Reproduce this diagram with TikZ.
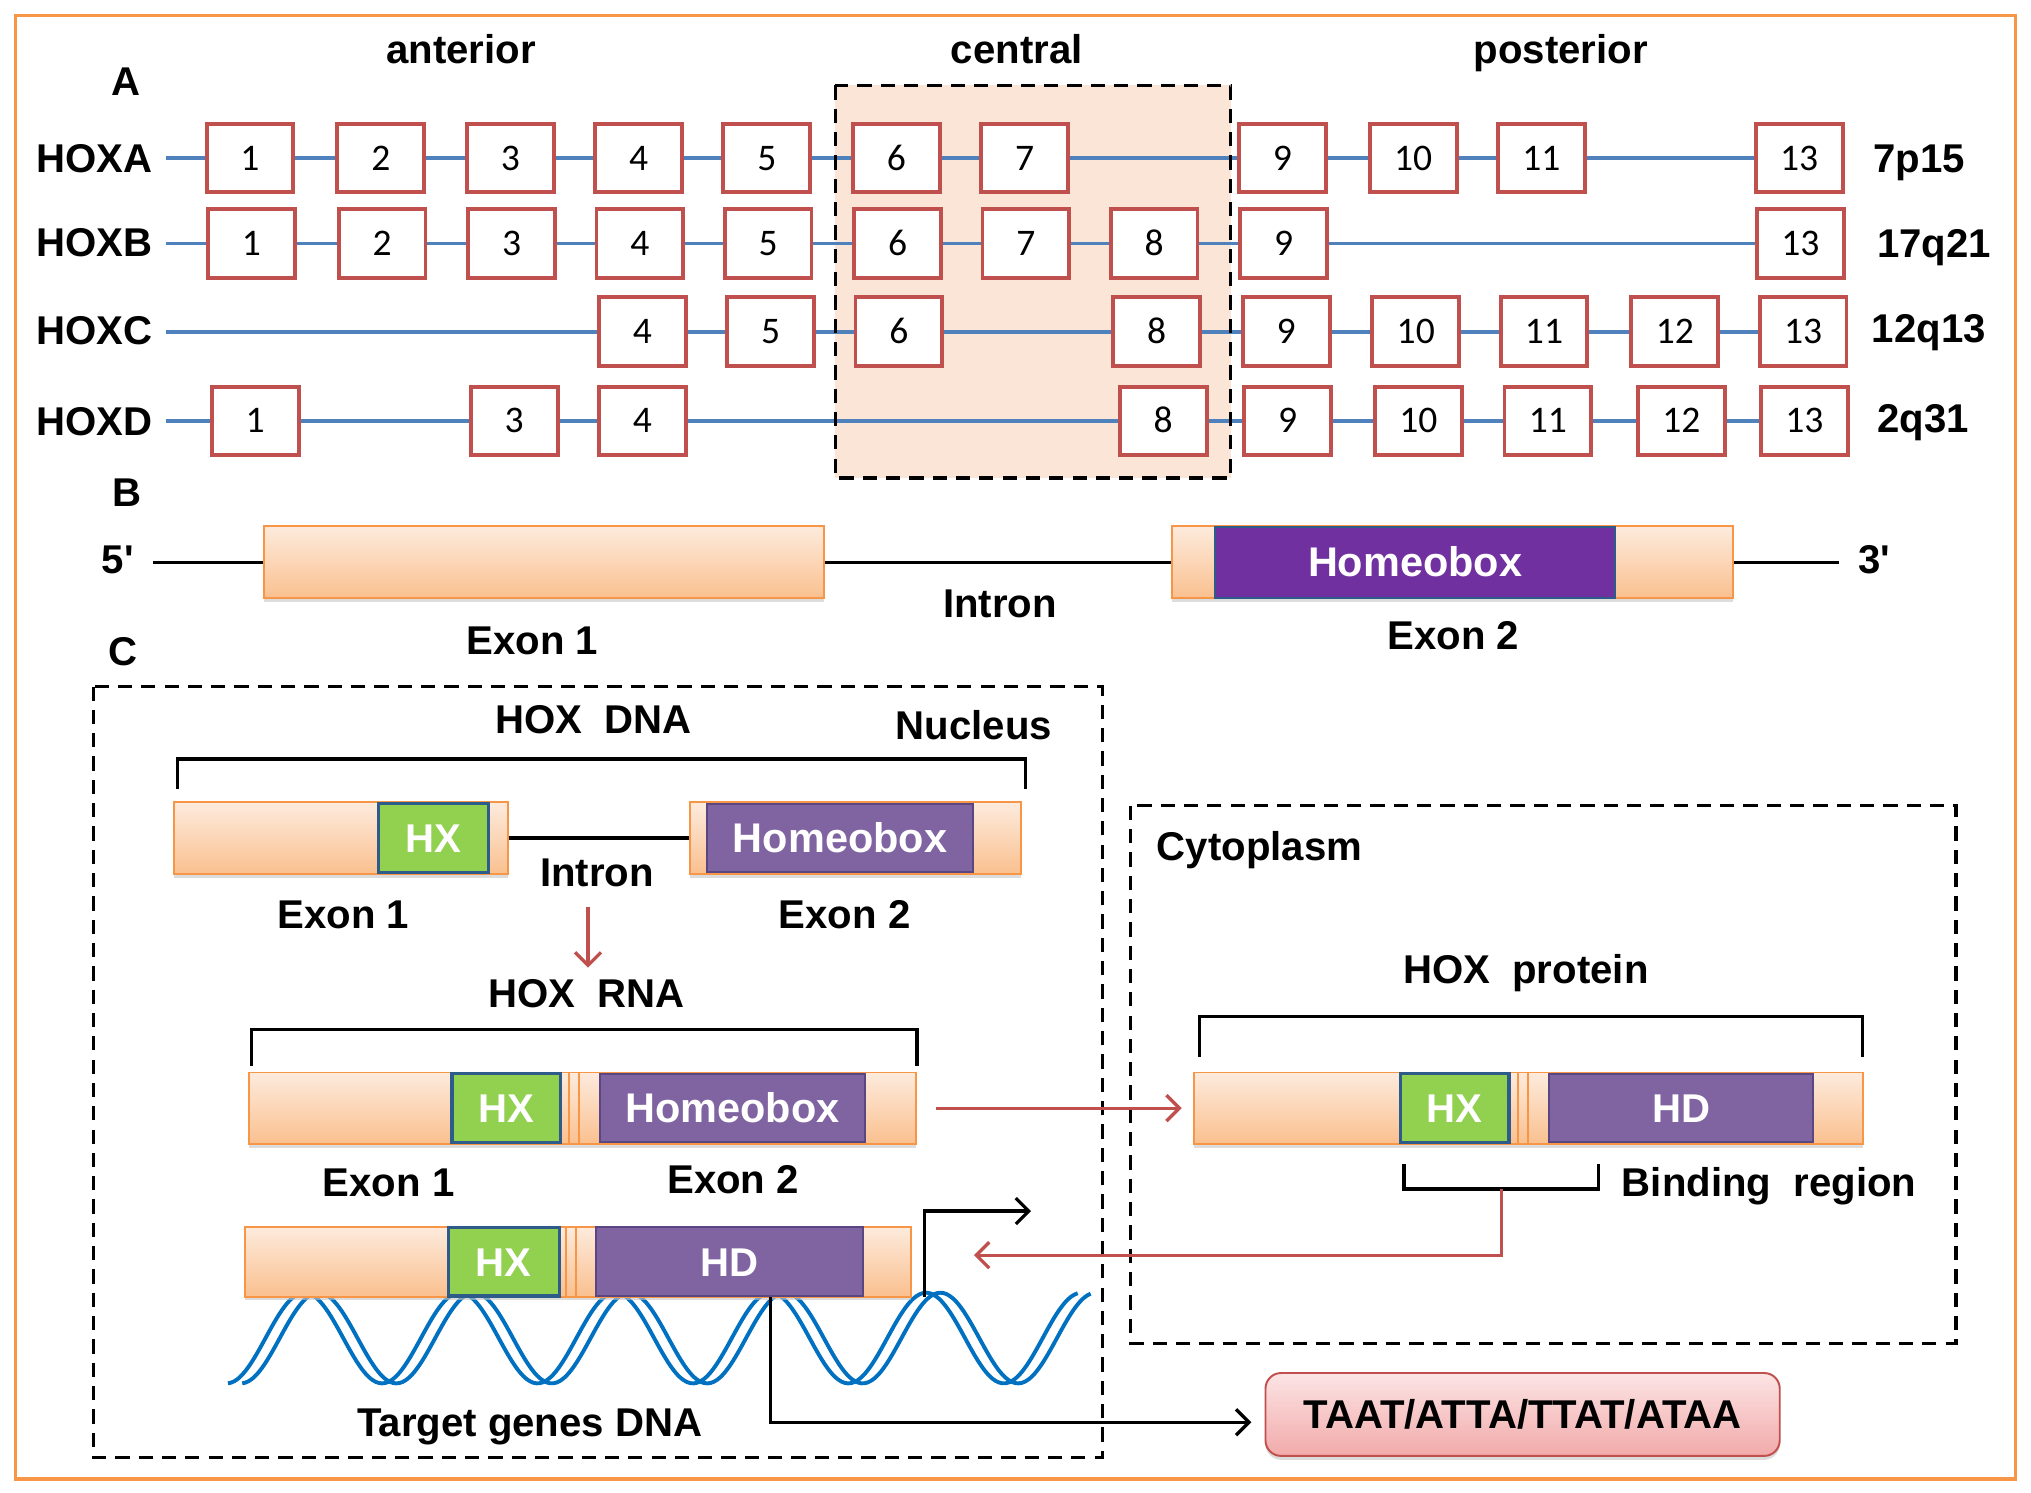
\documentclass[tikz,border=0pt]{standalone}
\usepackage{fontspec}
\setmainfont{Liberation Sans}
\newfontfamily\numfont{Carlito}
\newfontfamily\apfont[Ligatures=ResetAll]{Liberation Sans}
\usetikzlibrary{arrows.meta,shadows}
\definecolor{frameor}{HTML}{F79646}
\definecolor{boxred}{HTML}{C0504D}
\definecolor{lineblue}{HTML}{4F81BD}
\definecolor{centralfill}{HTML}{FBE5D6}
\definecolor{exTop}{HTML}{FDEBDD}
\definecolor{exBot}{HTML}{FAC08F}
\definecolor{exLine}{HTML}{F79646}
\definecolor{purpB}{HTML}{7030A0}
\definecolor{purpC}{HTML}{8064A2}
\definecolor{purpLine}{HTML}{5A4682}
\definecolor{hxgreen}{HTML}{92D050}
\definecolor{hxline}{HTML}{2E5C8A}
\definecolor{helixblue}{HTML}{0070C0}
\definecolor{pinkTop}{HTML}{FCE4E4}
\definecolor{pinkBot}{HTML}{F2AAAA}
\tikzset{
  lbl/.style={font=\bfseries\fontsize{31}{37}\selectfont, inner sep=0pt, text height=22.2pt, text depth=0pt},
  gbox/.style={draw=boxred, line width=3pt, fill=white, minimum width=67pt, minimum height=53pt, inner sep=0pt,
    font=\numfont\fontsize{29}{34}\selectfont, text height=18.5pt, text depth=0pt},
  gline/.style={draw=lineblue, line width=3pt},
  dashbox/.style={draw=black, line width=2.5pt, dash pattern=on 11pt off 7pt},
  exon/.style={draw=exLine, line width=1.5pt, top color=exTop, bottom color=exBot, inner sep=0pt,
    drop shadow={shadow xshift=0pt, shadow yshift=-3pt, fill=gray!45, opacity=0.6}},
  hxbox/.style={lbl, draw=hxline, line width=2.5pt, fill=hxgreen, text=white, minimum width=84pt, minimum height=53pt},
  purpbox/.style={lbl, draw=purpLine, line width=1.5pt, fill=purpC, text=white, minimum height=53pt},
  hbfont/.style={font=\bfseries\fontsize{32}{38}\selectfont},
  sepline/.style={draw=exLine, line width=1.5pt},
  blk/.style={draw=black, line width=2.5pt},
  redarr/.style={draw=boxred, line width=2.5pt, -{Straight Barb[length=10pt,width=20pt]}},
  blkarr/.style={draw=black, line width=2.5pt, -{Straight Barb[length=10pt,width=20pt]}},
  helix/.style={draw=helixblue, line width=3pt},
}
\begin{document}
\begin{tikzpicture}[x=1pt,y=-1pt]
\useasboundingbox (0,0) rectangle (1568,1152);
\fill[white] (0,0) rectangle (1568,1152);
% outer frame
\draw[frameor, line width=3pt] (12,12) rectangle (1556,1142);

% ---------------- A ----------------
\fill[centralfill] (645,66) rectangle (950,369);
\node[lbl] (tant) at (356,38) {anterior};
\node[lbl] (tcen) at (785,38) {central};
\node[lbl] (tpos) at (1205,38) {posterior};
\node[lbl] (labA) at (97,63) {A};

\node[lbl, anchor=west] (hoxa) at (28,122) {HOXA};
\node[lbl, anchor=west] (hoxb) at (28,187) {HOXB};
\node[lbl, anchor=west] (hoxc) at (28,255) {HOXC};
\node[lbl, anchor=west] (hoxd) at (28,325) {HOXD};
\node[lbl, anchor=west] (chrA) at (1446,122) {7p15};
\node[lbl, anchor=west] (chrB) at (1449,188) {17q21};
\node[lbl, anchor=west] (chrC) at (1445,253) {12q13};
\node[lbl, anchor=west] (chrD) at (1449,323) {2q31};

\coordinate (sA) at (128,122);
\coordinate (sB) at (128,188);
\coordinate (sC) at (128,256);
\coordinate (sD) at (128,325);

\foreach \n/\x in {1/193,2/294,3/394,4/493,5/592,6/692,7/791,9/990,10/1091,11/1190,13/1389}
  \node[gbox] (A\n) at (\x,122) {\n};
\foreach \n/\x in {1/194,2/295,3/395,4/494,5/593,6/693,7/792,8/891,9/991,13/1390}
  \node[gbox] (B\n) at (\x,188) {\n};
\foreach \n/\x in {4/496,5/595,6/694,8/893,9/993,10/1093,11/1192,12/1293,13/1392}
  \node[gbox] (C\n) at (\x,256) {\n};
\foreach \n/\x in {1/197,3/397,4/496,8/898,9/994,10/1095,11/1195,12/1298,13/1393}
  \node[gbox] (D\n) at (\x,325) {\n};

\draw[gline] (sA) -- (A1.west);
\foreach \a/\b in {1/2,2/3,3/4,4/5,5/6,6/7,7/9,9/10,10/11,11/13}
  \draw[gline] (A\a.east) -- (A\b.west);
\draw[gline] (sB) -- (B1.west);
\foreach \a/\b in {1/2,2/3,3/4,4/5,5/6,6/7,7/8,8/9,9/13}
  \draw[gline] (B\a.east) -- (B\b.west);
\draw[gline] (sC) -- (C4.west);
\foreach \a/\b in {4/5,5/6,6/8,8/9,9/10,10/11,11/12,12/13}
  \draw[gline] (C\a.east) -- (C\b.west);
\draw[gline] (sD) -- (D1.west);
\foreach \a/\b in {1/3,3/4,4/8,8/9,9/10,10/11,11/12,12/13}
  \draw[gline] (D\a.east) -- (D\b.west);

\draw[dashbox] (645,66) rectangle (950,369);

% ---------------- B ----------------
\node[lbl] (labB) at (98,380) {B};
\node[lbl, font=\apfont\bfseries\fontsize{31}{37}\selectfont] (five) at (91,432) {5'};
\node[lbl, font=\apfont\bfseries\fontsize{31}{37}\selectfont] (three) at (1447,432) {3'};
\coordinate (b5) at (118,434);
\coordinate (b3) at (1420,434);
\node[exon, minimum width=432pt, minimum height=56pt] (bex1) at (420,434) {};
\node[exon, minimum width=433pt, minimum height=56pt] (bex2) at (1121.5,434) {};
\node[lbl, hbfont, draw=hxline, line width=1.5pt, fill=purpB, text=white, minimum width=309pt, minimum height=55pt] (bhb) at (1092.5,434) {Homeobox};
\draw[blk] (b5) -- (bex1.west);
\draw[blk] (bex1.east) -- (bex2.west);
\draw[blk] (bex2.east) -- (b3);
\node[lbl] (bintron) at (772,466) {Intron};
\node[lbl] (bexon1) at (411,494) {Exon 1};
\node[lbl] (bexon2) at (1122,490) {Exon 2};

% ---------------- C ----------------
\node[lbl] (labC) at (95,503) {C};
\draw[dashbox] (72,530) rectangle (851,1125);
\draw[dashbox] (873,622) rectangle (1510,1037);
\node[lbl] (hoxdna) at (458,555) {HOX\ \ DNA};
\node[lbl] (nucleus) at (752,560) {Nucleus};
\node[lbl, anchor=west] (cyto) at (893,653) {Cytoplasm};

% DNA
\draw[blk] (137,609) -- (137,586) -- (792,586) -- (792,609);
\node[exon, minimum width=258pt, minimum height=55pt] (dex1) at (263,647) {};
\node[exon, minimum width=255pt, minimum height=55pt] (dex2) at (660.5,647) {};
\node[hxbox, minimum width=85pt] (dhx) at (334.5,647) {HX};
\node[purpbox, hbfont, minimum width=205pt] (dhb) at (648.5,647) {Homeobox};
\draw[blk] (dex1.east) -- (dex2.west);
\node[lbl] (cintron) at (461,673) {Intron};
\node[lbl] (dexon1) at (265,706) {Exon 1};
\node[lbl] (dexon2) at (652,706) {Exon 2};
\coordinate (t1s) at (454,700);
\coordinate (t1e) at (454,747);
\draw[redarr] (t1s) -- (t1e);

% RNA
\node[lbl] (hoxrna) at (453,767) {HOX\ \ RNA};
\draw[blk] (194,823) -- (194,795) -- (708,795) -- (708,823);
\node[exon, minimum width=515pt, minimum height=55pt] (rbar) at (449.5,855.5) {};
\draw[sepline] (439,828) -- (439,883);
\draw[sepline] (447,828) -- (447,883);
\node[hxbox] (rhx) at (391,855.5) {HX};
\node[purpbox, hbfont, minimum width=205pt] (rhb) at (565.5,855.5) {Homeobox};
\node[lbl] (rexon1) at (300,913) {Exon 1};
\node[lbl] (rexon2) at (566,910) {Exon 2};

% protein
\node[lbl] (hoxprot) at (1178,748) {HOX\ \ protein};
\draw[blk] (926,816) -- (926,785) -- (1438,785) -- (1438,816);
\node[exon, minimum width=516pt, minimum height=55pt] (pbar) at (1180,855.5) {};
\draw[sepline] (1172,828) -- (1172,883);
\draw[sepline] (1180,828) -- (1180,883);
\node[hxbox] (phx) at (1123,855.5) {HX};
\node[purpbox, minimum width=204pt] (phd) at (1298,855.5) {HD};
\draw[redarr] ([xshift=15pt]rbar.east) -- ([xshift=-9pt]pbar.west);

% binding region
\coordinate (bra) at (1084,899);
\coordinate (brb) at (1234,899);
\coordinate (brm) at (1159,918);
\draw[blk] (bra) -- (1084,918) -- (1234,918) -- (brb);
\node[lbl, anchor=west] (bind) at (1252,913) {Binding\ \ region};
\coordinate (bret) at (752,969);
\draw[redarr] (brm) -- (1159,969) -- (bret);

% helix
\draw[helix] plot[domain=176:832, samples=260, smooth] (\x, {1033-35*sin(3*(\x-205))});
\draw[helix] plot[domain=187:842, samples=260, smooth] (\x, {1033-35*sin(3*(\x-216))});

% bound protein
\node[exon, minimum width=514pt, minimum height=54pt] (bbar) at (446,974) {};
\draw[sepline] (437,947) -- (437,1001);
\draw[sepline] (445,947) -- (445,1001);
\node[hxbox, minimum width=86pt] (bhx) at (389,974) {HX};
\node[purpbox, minimum width=206pt] (bhd) at (563,974) {HD};
\node[lbl] (target) at (409,1098) {Target genes DNA};

\coordinate (ts0) at (714,1001);
\coordinate (ts1) at (714,935);
\coordinate (ts2) at (796,935);
\draw[blkarr] (ts0) -- (ts1) -- (ts2);

\node[lbl, draw=boxred, line width=1.5pt, rounded corners=12pt, top color=pinkTop, bottom color=pinkBot,
      minimum width=397pt, minimum height=64pt,
      drop shadow={shadow xshift=0pt, shadow yshift=-3pt, fill=gray!45, opacity=0.6}] (taat) at (1175.5,1092) {TAAT/ATTA/TTAT/ATAA};
\coordinate (hdb) at (595,1001);
\coordinate (hdc) at (595,1098);
\coordinate (hdt) at (966,1098);
\draw[blkarr] (hdb) -- (hdc) -- (hdt);
\end{tikzpicture}
\end{document}
